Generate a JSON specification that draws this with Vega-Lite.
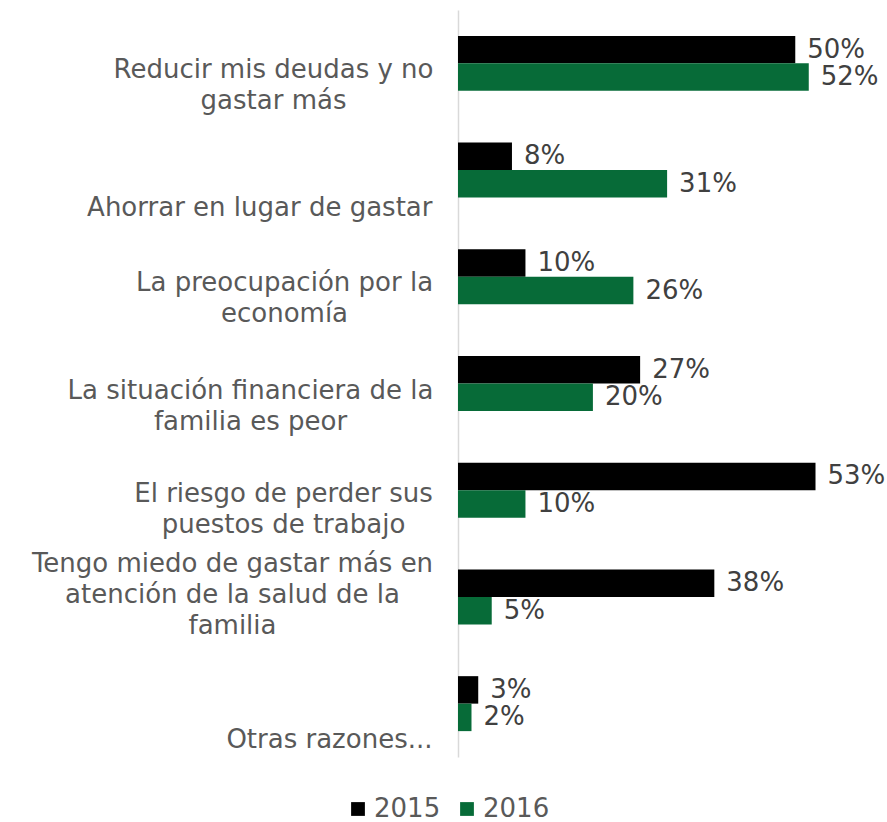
{
  "$schema": "https://vega.github.io/schema/vega-lite/v6.json",
  "width": 371,
  "height": 747,
  "autosize": "none",
  "padding": {"left": 458, "top": 10, "right": 58, "bottom": 65},
  "background": "white",
  "config": {
    "view": {"stroke": null},
    "font": "DejaVu Sans"
  },
  "data": {
    "values": [
      {"cat": "Reducir mis deudas y no|gastar más", "year": "2015", "value": 0.50},
      {"cat": "Reducir mis deudas y no|gastar más", "year": "2016", "value": 0.52},
      {"cat": "Ahorrar en lugar de gastar", "year": "2015", "value": 0.08},
      {"cat": "Ahorrar en lugar de gastar", "year": "2016", "value": 0.31},
      {"cat": "La preocupación por la|economía", "year": "2015", "value": 0.10},
      {"cat": "La preocupación por la|economía", "year": "2016", "value": 0.26},
      {"cat": "La situación financiera de la|familia es peor", "year": "2015", "value": 0.27},
      {"cat": "La situación financiera de la|familia es peor", "year": "2016", "value": 0.20},
      {"cat": "El riesgo de perder sus|puestos de trabajo", "year": "2015", "value": 0.53},
      {"cat": "El riesgo de perder sus|puestos de trabajo", "year": "2016", "value": 0.10},
      {"cat": "Tengo miedo de gastar más en|atención de la salud de la|familia", "year": "2015", "value": 0.38},
      {"cat": "Tengo miedo de gastar más en|atención de la salud de la|familia", "year": "2016", "value": 0.05},
      {"cat": "Otras razones...", "year": "2015", "value": 0.03},
      {"cat": "Otras razones...", "year": "2016", "value": 0.02}
    ]
  },
  "encoding": {
    "y": {
      "field": "cat",
      "type": "nominal",
      "sort": null,
      "scale": {"paddingInner": 0.485, "paddingOuter": 0.2425},
      "axis": {
        "title": null,
        "ticks": false,
        "domainColor": "#d9d9d9",
        "domainWidth": 1.5,
        "labelFontSize": 26,
        "labelColor": "#595959",
        "labelLimit": 700,
        "labelLineHeight": 31,
        "labelBaseline": "middle",
        "labelExpr": "split(datum.label, '|')",
        "labelAlign": {
          "condition": {"test": "datum.value == 'Ahorrar en lugar de gastar' || datum.value == 'Otras razones...'", "value": "right"},
          "value": "center"
        },
        "labelPadding": {
          "condition": [
            {"test": "datum.value == 'Ahorrar en lugar de gastar' || datum.value == 'Otras razones...'", "value": 26},
            {"test": "indexof(datum.value, 'Reducir') == 0", "value": 185},
            {"test": "indexof(datum.value, 'La preocupación') == 0", "value": 174},
            {"test": "indexof(datum.value, 'La situación') == 0", "value": 208},
            {"test": "indexof(datum.value, 'El riesgo') == 0", "value": 175},
            {"test": "indexof(datum.value, 'Tengo') == 0", "value": 226}
          ],
          "value": 180
        },
        "labelOffset": {
          "condition": [
            {"test": "datum.value == 'Ahorrar en lugar de gastar'", "value": 38},
            {"test": "datum.value == 'Otras razones...'", "value": 36},
            {"test": "indexof(datum.value, 'Reducir') == 0", "value": 7},
            {"test": "indexof(datum.value, 'La preocupación') == 0", "value": 6},
            {"test": "indexof(datum.value, 'La situación') == 0", "value": 7},
            {"test": "indexof(datum.value, 'El riesgo') == 0", "value": 4},
            {"test": "indexof(datum.value, 'Tengo') == 0", "value": -33}
          ],
          "value": 8
        }
      }
    },
    "yOffset": {"field": "year", "type": "nominal"},
    "x": {
      "field": "value",
      "type": "quantitative",
      "scale": {"domain": [0, 0.55]},
      "axis": null
    }
  },
  "layer": [
    {
      "mark": {"type": "bar"},
      "encoding": {
        "color": {
          "field": "year",
          "type": "nominal",
          "scale": {"domain": ["2015", "2016"], "range": ["#000000", "#076b38"]},
          "legend": {
            "title": null,
            "orient": "none",
            "direction": "horizontal",
            "legendX": -113,
            "legendY": 786,
            "symbolType": "square",
            "symbolSize": 190,
            "symbolStrokeWidth": 0,
            "labelFontSize": 26,
            "labelColor": "#595959",
            "labelOffset": 3,
            "columnPadding": 13
          }
        }
      }
    },
    {
      "mark": {"type": "text", "align": "left", "baseline": "middle", "dx": 12, "fontSize": 26, "color": "#404040"},
      "encoding": {
        "text": {"field": "value", "type": "quantitative", "format": ".0%"},
        "detail": {"field": "year"}
      }
    }
  ]
}
